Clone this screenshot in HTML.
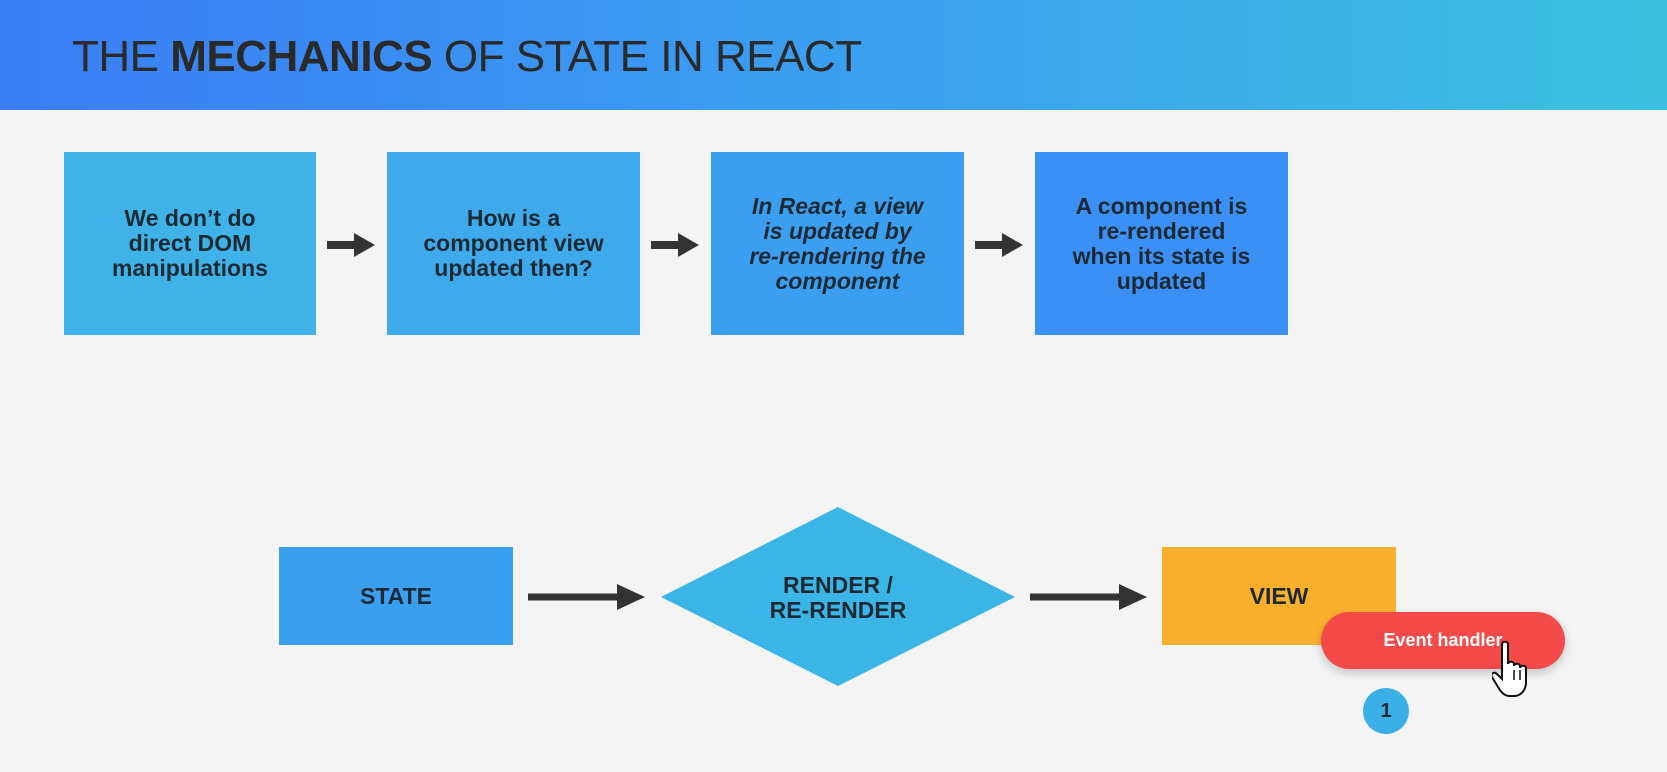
<!DOCTYPE html>
<html><head><meta charset="utf-8"><style>
*{margin:0;padding:0;box-sizing:border-box}
body{width:1667px;height:772px;background:#f4f4f4;position:relative;overflow:hidden;font-family:"Liberation Sans",Arial,sans-serif;color:#222}
.hdr{position:absolute;left:0;top:0;width:1667px;height:110px;background:linear-gradient(90deg,#3a7df5 0%,#3b9ff0 50%,#3cc0df 100%)}
.title{position:absolute;left:72px;top:32px;font-size:44px;color:#2a2a2a;letter-spacing:-0.5px}
.b{position:absolute;display:flex;align-items:center;justify-content:center;text-align:center;font-weight:bold;font-size:23px;line-height:25px;color:#1e2a33}
.ar{position:absolute}
</style></head><body>
<div class="hdr"><div class="title">THE <b>MECHANICS</b> OF STATE IN REACT</div></div>

<div class="b" style="left:64px;top:152px;width:252px;height:183px;background:#3fb2e8">We don’t do<br>direct DOM<br>manipulations</div>
<div class="b" style="left:387px;top:152px;width:253px;height:183px;background:#3eaaec">How is a<br>component view<br>updated then?</div>
<div class="b" style="left:711px;top:152px;width:253px;height:183px;background:#3b9ef0;font-style:italic">In React, a view<br>is updated by<br>re-rendering the<br>component</div>
<div class="b" style="left:1035px;top:152px;width:253px;height:183px;background:#3a90f5">A component is<br>re-rendered<br>when its state is<br>updated</div>

<svg class="ar" style="left:0;top:0" width="1667" height="772">
<g fill="#333" stroke="#333">
<line x1="327" y1="245" x2="356" y2="245" stroke-width="8"/><polygon points="354,233 375,245 354,257" stroke="none"/>
<line x1="651" y1="245" x2="680" y2="245" stroke-width="8"/><polygon points="678,233 699,245 678,257" stroke="none"/>
<line x1="975" y1="245" x2="1004" y2="245" stroke-width="8"/><polygon points="1002,233 1023,245 1002,257" stroke="none"/>
<line x1="528" y1="597" x2="620" y2="597" stroke-width="7"/><polygon points="617,584 645,597 617,610" stroke="none"/>
<line x1="1030" y1="597" x2="1122" y2="597" stroke-width="7"/><polygon points="1119,584 1147,597 1119,610" stroke="none"/>
</g>
<polygon points="838,507 1015,597 838,686 661,597" fill="#3bb5e6"/>
</svg>

<div class="b" style="left:279px;top:547px;width:234px;height:98px;background:#3b9ff0">STATE</div>
<div class="b" style="left:738px;top:560px;width:200px;height:75px">RENDER /<br>RE-RENDER</div>
<div class="b" style="left:1162px;top:547px;width:234px;height:98px;background:#fbb02d">VIEW</div>

<div class="b" style="left:1321px;top:612px;width:244px;height:57px;background:#f44a4a;border-radius:29px;color:#fff;font-size:18px;box-shadow:0 4px 10px rgba(0,0,0,0.2)">Event handler</div>
<div class="b" style="left:1363px;top:688px;width:46px;height:46px;border-radius:50%;background:#3bb0e6;font-size:20px">1</div>

<svg class="ar" style="left:1492px;top:640px" width="50" height="60" viewBox="0 0 50 60">
<path d="M10 4c0-3 6-3 6 0v20c0-3 6-3 6 0v2c0-3 6-3 6 0v2c0-3 6-3 6 0v14c0 8-5 14-12 14h-4c-6 0-9-4-12-9l-6-10c-2-3 2-6 5-3l5 5V4z" fill="#fff" stroke="#111" stroke-width="2"/>
<line x1="22" y1="30" x2="22" y2="40" stroke="#111" stroke-width="1.5"/>
<line x1="28" y1="30" x2="28" y2="40" stroke="#111" stroke-width="1.5"/>
</svg>
</body></html>
